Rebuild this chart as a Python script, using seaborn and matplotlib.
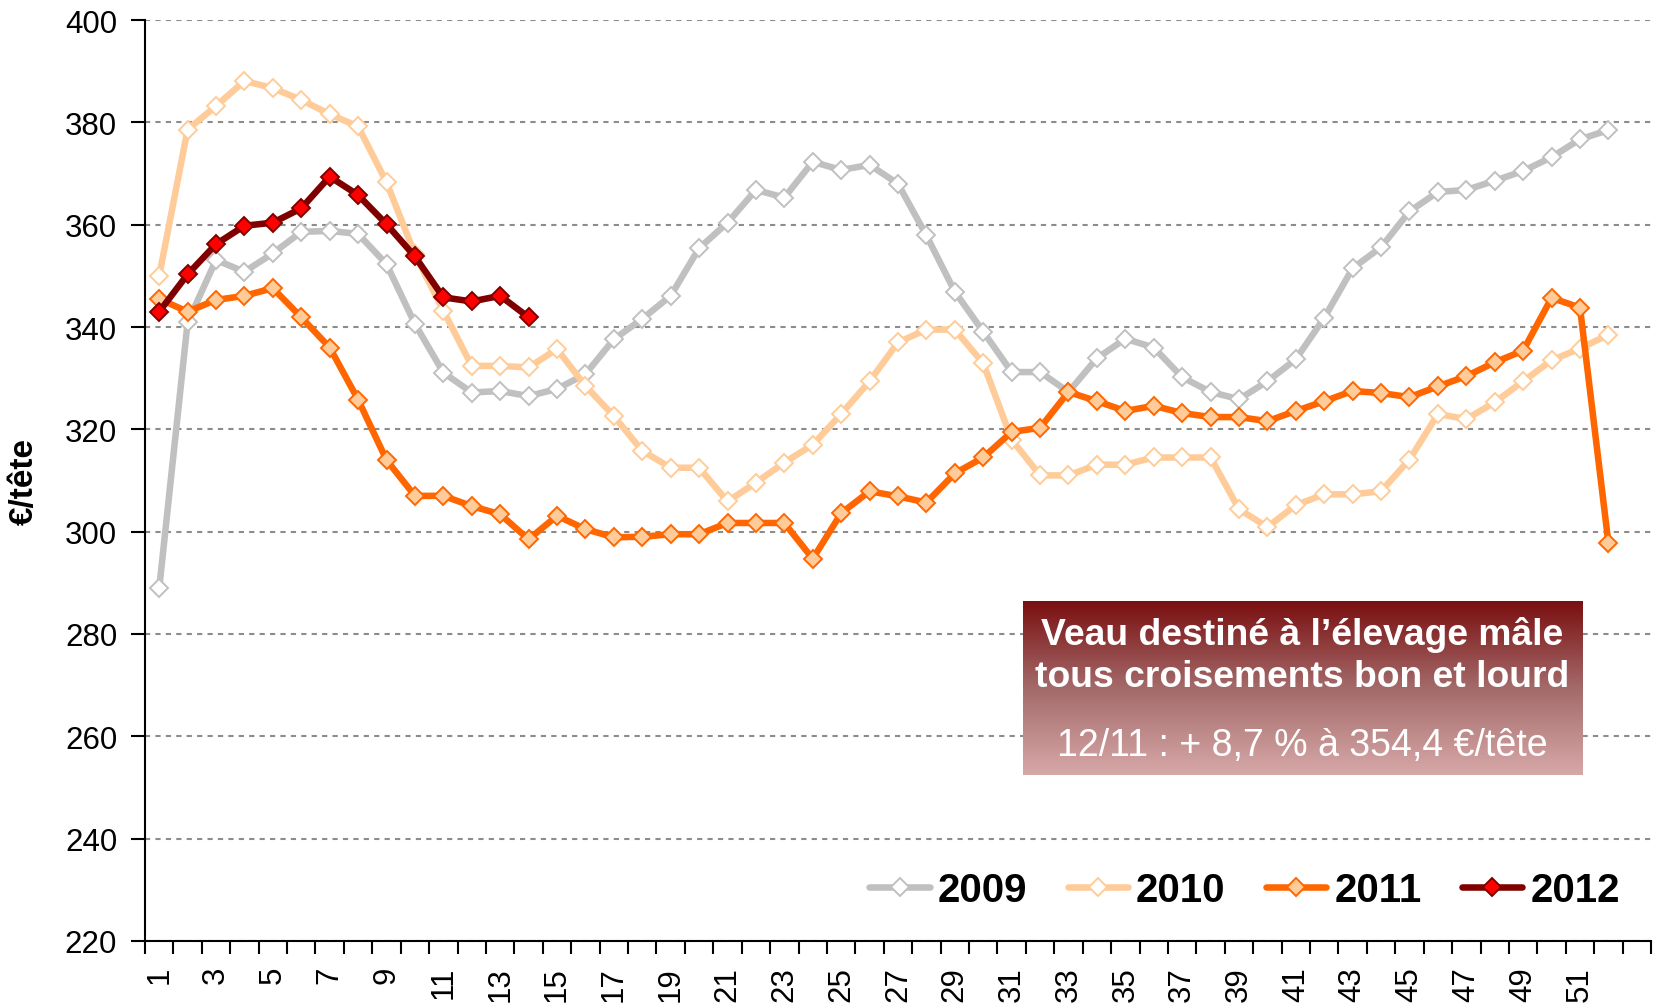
import numpy as np
import pandas as pd
import matplotlib
matplotlib.use('Agg')
import matplotlib.pyplot as plt
import seaborn as sns
from matplotlib.colors import LinearSegmentedColormap

weeks = list(range(1, 53))

y2009 = [288.9, 340.9, 353.1, 350.8, 354.4, 358.6, 358.8, 358.2, 352.3, 340.6,
         331.1, 327.2, 327.5, 326.5, 327.9, 330.8, 337.6, 341.6, 346.1, 355.4,
         360.4, 366.8, 365.3, 372.3, 370.7, 371.7, 368.0, 357.9, 346.9, 339.1,
         331.2, 331.2, 327.3, 333.9, 337.7, 336.0, 330.2, 327.3, 325.9, 329.4,
         333.7, 341.8, 351.5, 355.6, 362.6, 366.4, 366.8, 368.6, 370.5, 373.2,
         376.7, 378.5]
y2010 = [350.0, 378.6, 383.2, 388.1, 386.7, 384.4, 381.6, 379.2, 368.3, 354.2,
         343.2, 332.4, 332.4, 332.1, 335.7, 328.5, 322.6, 315.8, 312.5, 312.5,
         305.9, 309.6, 313.5, 317.0, 323.0, 329.4, 337.0, 339.5, 339.5, 332.9,
         318.0, 311.0, 311.0, 313.1, 313.1, 314.5, 314.5, 314.5, 304.4, 300.9,
         305.2, 307.3, 307.3, 307.9, 314.1, 323.0, 322.0, 325.3, 329.4, 333.5,
         335.8, 338.5]
y2011 = [345.5, 343.0, 345.3, 346.1, 347.6, 341.9, 336.0, 325.8, 314.0, 307.0,
         307.0, 305.0, 303.4, 298.5, 303.1, 300.5, 298.9, 299.0, 299.5, 299.5,
         301.7, 301.7, 301.7, 294.7, 303.6, 307.9, 306.9, 305.7, 311.4, 314.5,
         319.5, 320.3, 327.3, 325.5, 323.6, 324.6, 323.2, 322.4, 322.4, 321.6,
         323.6, 325.5, 327.5, 327.1, 326.3, 328.4, 330.4, 333.1, 335.4, 345.7,
         343.8, 297.8]
y2012 = [343.0, 350.3, 356.2, 359.8, 360.4, 363.2, 369.4, 365.8, 360.1, 353.8,
         345.8, 345.0, 346.1, 341.9]

years = ['2009', '2010', '2011', '2012']
series = [y2009, y2010, y2011, y2012]
line_colors = ['#C0C0C0', '#FFCC99', '#FF6600', '#800000']
face_colors = ['white', 'white', '#FFCC99', '#FF0000']
edge_colors = ['#C0C0C0', '#FFCC99', '#FF6600', '#800000']

y_ticks = list(range(220, 401, 20))
x_labels = [str(w) for w in range(1, 52, 2)]

sns.set_style('white')
plt.rcParams['font.family'] = ['Liberation Sans', 'DejaVu Sans']
plt.rcParams['text.color'] = 'black'
plt.rcParams['axes.labelcolor'] = 'black'
plt.rcParams['xtick.color'] = 'black'
plt.rcParams['ytick.color'] = 'black'

fig = plt.figure(figsize=(16.55, 10.04), dpi=100)
ax = fig.add_axes([0.0876, 0.0618, 0.9100, 0.9172])

for year, vals, lc, fc, ec in zip(years, series, line_colors, face_colors, edge_colors):
    df = pd.DataFrame({'semaine': weeks[:len(vals)], 'prix': vals})
    sns.lineplot(data=df, x='semaine', y='prix', ax=ax, color=lc, linewidth=4.7,
                 marker='D', markersize=9.5, markerfacecolor=fc,
                 markeredgecolor=ec, markeredgewidth=1.4, label=year)

ax.set_ylim(220, 400)
ax.set_yticks(y_ticks)
ax.set_xlim(0.5, 53.5)
ax.set_xticks(list(range(1, 52, 2)))
ax.set_xticklabels(x_labels, rotation=90)
ax.set_xticks(np.arange(0.5, 54, 1), minor=True)
ax.tick_params(axis='x', which='major', length=0, pad=18, labelsize=22.5)
ax.tick_params(axis='x', which='minor', length=9, width=1.5, direction='out', bottom=True)
ax.tick_params(axis='y', length=10, width=1.5, direction='out', left=True, pad=10, labelsize=22.5)

ax.yaxis.grid(True, color='#8C8C8C', linestyle=(0, (2.5, 2.5)), linewidth=1.5)
ax.xaxis.grid(False)
ax.set_axisbelow(True)
for side in ['top', 'right']:
    ax.spines[side].set_visible(False)
for side in ['left', 'bottom']:
    ax.spines[side].set_color('black')
    ax.spines[side].set_linewidth(1.5)

ax.set_xlabel('')
ax.set_ylabel('€/tête', fontsize=24, fontweight='bold', labelpad=18)

leg = ax.legend(loc='center right', bbox_to_anchor=(0.99, 0.055), ncol=4,
                frameon=False, prop={'size': 29, 'weight': 'bold'},
                handlelength=1.5, handletextpad=0.2, columnspacing=1.0,
                borderaxespad=0)

# encadré avec dégradé
box = fig.add_axes([0.618, 0.227, 0.338, 0.173])
cmap = LinearSegmentedColormap.from_list('grad', ['#7A0F10', '#A46A6A', '#D7A8A8'])
grad = np.linspace(0, 1, 256).reshape(-1, 1)
box.imshow(grad, aspect='auto', cmap=cmap, extent=[0, 1, 0, 1], origin='upper')
box.set_xlim(0, 1)
box.set_ylim(0, 1)
box.axis('off')
box.text(0.5, 0.81, 'Veau destiné à l’élevage mâle', color='white', fontsize=26.8,
         fontweight='bold', ha='center', va='center')
box.text(0.5, 0.565, 'tous croisements bon et lourd', color='white', fontsize=26.8,
         fontweight='bold', ha='center', va='center')
box.text(0.5, 0.175, '12/11 : + 8,7 % à 354,4 €/tête', color='white', fontsize=27,
         ha='center', va='center')

fig.savefig('out.png', dpi=100)
